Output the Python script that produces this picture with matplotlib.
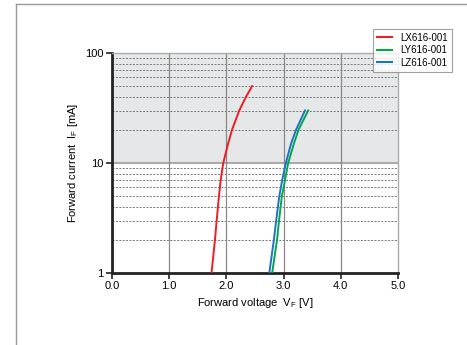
import numpy as np
import matplotlib.pyplot as plt
from matplotlib.lines import Line2D

# forward voltage [V] vs forward current [mA]
i_red = [1, 2, 3, 5, 7, 10, 15, 20, 30, 40, 50]
v_red = [1.74, 1.80, 1.83, 1.87, 1.90, 1.945, 2.03, 2.098, 2.225, 2.343, 2.45]

i_grn = [1, 2, 3, 5, 7, 10, 15, 20, 30]
v_grn = [2.80, 2.885, 2.92, 2.97, 3.025, 3.08, 3.18, 3.26, 3.43]

i_blu = [1, 2, 3, 5, 7, 10, 15, 20, 30]
v_blu = [2.75, 2.83, 2.87, 2.925, 2.975, 3.04, 3.13, 3.217, 3.374]

names = ['LX616-001', 'LY616-001', 'LZ616-001']
colors = ['#ee1c25', '#00a650', '#1f73c0']

plt.rcParams['font.family'] = ['Liberation Sans', 'DejaVu Sans']
plt.rcParams['mathtext.fontset'] = 'custom'
plt.rcParams['mathtext.rm'] = 'Liberation Sans'

fig = plt.figure(figsize=(4.67, 3.45), dpi=100)
ax = fig.add_axes([112/467, 72/345, 286/467, 220/345])

# shaded upper decade
ax.axhspan(10, 100, color='#e6e7e8', zorder=0, lw=0)

# dotted minor grid
for d in [1, 10]:
    for k in range(2, 10):
        ax.axhline(d*k, color='#777777', lw=0.7, ls=(0, (2, 1.5)), zorder=1)
ax.axhline(10, color='#aaaaaa', lw=1.5, zorder=1)
for x in [1, 2, 3, 4]:
    ax.axvline(x, color='#888888', lw=0.9, zorder=1)

ax.plot(v_red, i_red, color=colors[0], lw=1.4, zorder=3)
ax.plot(v_grn, i_grn, color=colors[1], lw=1.4, zorder=3)
ax.plot(v_blu, i_blu, color=colors[2], lw=1.4, zorder=3)

ax.set_yscale('log')
ax.set_xlim(0, 5)
ax.set_ylim(1, 100)
ax.set_xticks([0, 1, 2, 3, 4, 5])
ax.set_xticklabels(['0.0', '1.0', '2.0', '3.0', '4.0', '5.0'])
ax.set_yticks([1, 10, 100])
ax.set_yticklabels(['1', '10', '100'])
ax.minorticks_off()
ax.tick_params(labelsize=8, length=4, width=1.2, color='#222222', pad=2)

for s in ['left', 'bottom']:
    ax.spines[s].set_linewidth(2)
    ax.spines[s].set_color('#222222')
for s in ['top', 'right']:
    ax.spines[s].set_linewidth(1)
    ax.spines[s].set_color('#aaaaaa')

ax.set_xlabel(r'Forward voltage  V$_\mathrm{F}$ [V]', fontsize=8, labelpad=3)
ax.set_ylabel(r'Forward current  I$_\mathrm{F}$ [mA]', fontsize=8, labelpad=4)

handles = [Line2D([], [], color=c, lw=1.5) for c in colors]
leg = fig.legend(handles, names, loc='upper left',
                 bbox_to_anchor=(368/467, 1 - 24/345), fontsize=7,
                 frameon=True, fancybox=False, handlelength=1.6,
                 handletextpad=0.8, borderpad=0.4, labelspacing=0.25)
leg.get_frame().set_edgecolor('#888888')
leg.get_frame().set_linewidth(0.8)

# outer frame lines
fig.add_artist(Line2D([16/467, 16/467], [0, 1 - 4/345], color='#999999', lw=1))
fig.add_artist(Line2D([16/467, 1], [1 - 4/345, 1 - 4/345], color='#999999', lw=1))

fig.savefig('out.png', dpi=100)
